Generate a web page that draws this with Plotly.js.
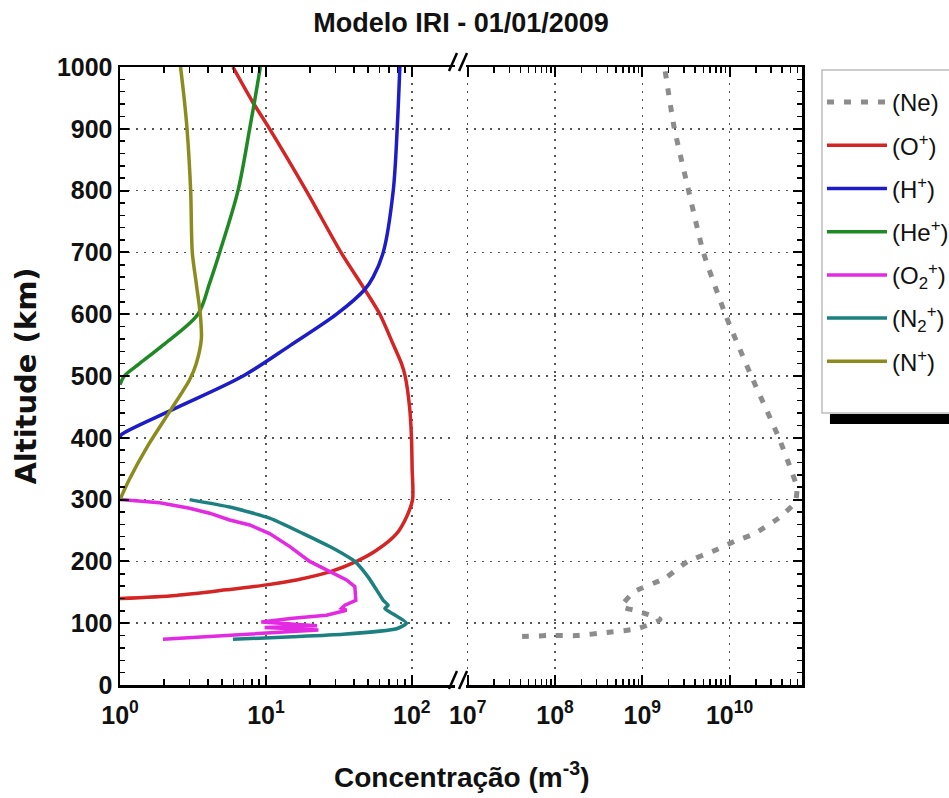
<!DOCTYPE html>
<html>
<head>
<meta charset="utf-8">
<script src="https://cdn.plot.ly/plotly-3.0.1.min.js"></script>
<style>
  html, body { margin: 0; padding: 0; background: #fff; }
  #chart { width: 949px; height: 798px; }
</style>
</head>
<body>
<div id="chart"></div>
<script>
// IRI model ion composition profiles for 01/01/2009.
// Altitudes in km, concentrations in m^-3.

// Electron density (right panel)
const altNe  = [993, 902, 805, 700, 596, 498, 401, 350, 319, 296, 270, 244, 234, 218, 199, 173, 150, 127, 120, 106, 91, 85, 80, 80, 78];
const concNe = [1.83e9, 2.32e9, 3.33e9, 5.01e9, 9.16e9, 1.80e10, 3.65e10, 5.01e10, 5.92e10, 5.66e10, 3.65e10, 1.88e10, 1.21e10,
                6.85e9, 3.24e9, 1.83e9, 7.93e8, 5.82e8, 8.65e8, 1.60e9, 8.65e8, 3.92e8, 1.77e8, 8.39e7, 3.63e7];

// O+
const altOp  = [1000, 945, 900, 800, 700, 640, 600, 553, 520, 500, 450, 400, 350, 300, 272, 245, 218, 200, 183, 170, 162, 154, 145, 140];
const concOp = [5.94, 8.04, 10.6, 18.9, 32.7, 47.6, 60.4, 74.0, 85.0, 90.0, 96.5, 99.5, 100.5, 101.2, 92.0, 78.7, 57.3, 41.8, 27.4, 16.2, 10.1, 5.36, 2.43, 1.0];

// H+
const altHp  = [1000, 900, 800, 700, 660, 640, 600, 550, 500, 446, 405, 401];
const concHp = [82.8, 79.4, 74.6, 63.7, 54.3, 47.6, 30.5, 14.8, 6.97, 2.31, 1.02, 1.0];

// He+
const altHep  = [1000, 945, 900, 800, 700, 650, 600, 550, 520, 500, 486];
const concHep = [9.16, 8.37, 7.74, 6.44, 4.82, 4.11, 3.42, 1.97, 1.36, 1.07, 1.0];

// O2+
const altO2p  = [300, 295, 286, 278, 267, 259, 245, 224, 200, 183, 170, 159, 137, 129, 124, 121, 113, 108, 102, 96, 93, 89, 74];
const concO2p = [1.0, 1.87, 3.0, 4.11, 5.64, 7.74, 10.6, 14.6, 19.95, 27.4, 35.7, 40.7, 41.3, 34.8, 33.0, 35.7, 26.0, 15.3, 9.3, 22.4, 9.8, 22.9, 1.97];

// N2+
const altN2p  = [300, 288, 270, 245, 224, 200, 175, 154, 137, 129, 124, 118, 100, 91, 82, 78, 74];
const concN2p = [3.0, 5.64, 10.6, 18.0, 27.4, 40.7, 50.1, 57.3, 63.7, 68.9, 65.3, 70.8, 92.0, 78.7, 33.8, 15.3, 5.94];

// N+
const altNp  = [1000, 950, 900, 800, 700, 650, 600, 560, 520, 494, 446, 387, 333, 300];
const concNp = [2.60, 2.75, 2.88, 3.05, 3.13, 3.33, 3.55, 3.61, 3.33, 3.0, 2.24, 1.55, 1.16, 1.0];

// Axis ticks
const leftTickVals  = [1, 10, 100];
const leftTickText  = ['10<sup>0</sup>', '10<sup>1</sup>', '10<sup>2</sup>'];
const rightTickVals = [1e7, 1e8, 1e9, 1e10];
const rightTickText = ['10<sup>7</sup>', '10<sup>8</sup>', '10<sup>9</sup>', '10<sup>10</sup>'];

const SANS = '"Liberation Sans", Arial, sans-serif';
const WIDE = '"DejaVu Sans", sans-serif';

function ion(name, x, y, color, smooth) {
  const line = { color: color, width: 3.5 };
  if (smooth) { line.shape = 'spline'; line.smoothing = smooth; }
  return {
    type: 'scatter', mode: 'lines', name: name, legendgroup: name, x: x, y: y,
    xaxis: 'x', yaxis: 'y', line: line
  };
}

const traces = [
  {
    type: 'scatter', mode: 'lines', name: '(Ne)', legendgroup: 'ne', x: concNe, y: altNe,
    xaxis: 'x2', yaxis: 'y2',
    line: { color: '#8c8c8c', width: 5, dash: '7px,10px', shape: 'spline', smoothing: 0.5 }
  },
  ion('(O<sup>+</sup>)', concOp, altOp, '#d42424', 0.8),
  ion('(H<sup>+</sup>)', concHp, altHp, '#1c1cc8', 0.9),
  ion('(He<sup>+</sup>)', concHep, altHep, '#1f8a24', 0.9),
  ion('(O<sub>2</sub><sup>+</sup>)', concO2p, altO2p, '#e22ae2', 0),
  ion('(N<sub>2</sub><sup>+</sup>)', concN2p, altN2p, '#1d8080', 0.5),
  ion('(N<sup>+</sup>)', concNp, altNp, '#8c8c1e', 0.8)
];

const gridStyle = { showgrid: true, gridcolor: '#555', gridwidth: 1.5, griddash: '2px,6px' };

const xCommon = Object.assign({
  type: 'log', tickmode: 'array',
  ticks: 'inside', ticklen: 10, tickwidth: 2, tickcolor: '#000',
  minor: { dtick: 'D1', ticks: 'inside', ticklen: 6, tickwidth: 1.5, tickcolor: '#000', showgrid: false },
  showline: true, linewidth: 2.5, linecolor: '#000', mirror: 'allticks',
  zeroline: false,
  tickfont: { family: SANS, size: 25, weight: 'bold', color: '#111' },
  ticklabelstandoff: 6
}, gridStyle);

const yCommon = Object.assign({
  range: [0, 1000], tickmode: 'linear', tick0: 0, dtick: 100,
  ticks: 'inside', ticklen: 9, tickwidth: 2, tickcolor: '#000',
  minor: { dtick: 20, ticks: 'inside', ticklen: 5, tickwidth: 1.5, tickcolor: '#000', showgrid: false },
  showline: true, linewidth: 2.5, linecolor: '#000',
  zeroline: false
}, gridStyle);

// Axis break marks "//" on the top and bottom frame
function slash(x0, x1, y0, y1) {
  return { type: 'line', xref: 'paper', yref: 'paper', x0: x0, x1: x1, y0: y0, y1: y1,
           line: { color: '#000', width: 2.5 } };
}

const layout = {
  width: 949, height: 798,
  margin: { l: 120, r: 147, t: 67, b: 113, autoexpand: false },
  paper_bgcolor: '#fff', plot_bgcolor: '#fff',
  showlegend: true,
  title: {
    text: 'Modelo IRI - 01/01/2009',
    x: 0.5, xref: 'paper', xanchor: 'center',
    y: 0.972, yref: 'container', yanchor: 'middle',
    font: { family: SANS, size: 27, weight: 'bold', color: '#111' }
  },
  xaxis: Object.assign({}, xCommon, {
    domain: [0, 0.4912], range: [0, 2.296], anchor: 'y',
    tickvals: leftTickVals, ticktext: leftTickText
  }),
  xaxis2: Object.assign({}, xCommon, {
    domain: [0.5073, 1], range: [6.98, 10.83], anchor: 'y2',
    tickvals: rightTickVals, ticktext: rightTickText
  }),
  yaxis: Object.assign({}, yCommon, {
    anchor: 'x', side: 'left',
    tickfont: { family: SANS, size: 25, weight: 'bold', color: '#111' },
    ticklabelstandoff: 0,
    title: { text: 'Altitude (km)', standoff: 12,
             font: { family: WIDE, size: 29, weight: 'bold', color: '#111' } }
  }),
  yaxis2: Object.assign({}, yCommon, {
    anchor: 'x2', side: 'right', matches: 'y', showticklabels: false
  }),
  legend: {
    x: 1.0293, y: 0.979, xanchor: 'left', yanchor: 'top',
    bgcolor: 'rgba(0,0,0,0)', borderwidth: 0,
    font: { family: SANS, size: 24, color: '#111' },
    itemwidth: 60, traceorder: 'grouped', tracegroupgap: 9
  },
  annotations: [{
    text: '<b>Concentração (m<sup>-3</sup>)</b>',
    xref: 'paper', yref: 'paper', x: 0.5, y: -0.1456,
    xanchor: 'center', yanchor: 'middle', showarrow: false,
    font: { family: SANS, size: 28, color: '#111' }
  }],
  shapes: [
    slash(0.4824, 0.4941, -0.0065, 0.0227),
    slash(0.4971, 0.5088, -0.0065, 0.0227),
    slash(0.4824, 0.4941, 0.9935, 1.0227),
    slash(0.4971, 0.5088, 0.9935, 1.0227),
    // legend drop shadow and frame
    { type: 'rect', xref: 'paper', yref: 'paper', x0: 1.041, x1: 1.5, y0: 0.4223, y1: 0.4385,
      fillcolor: '#000', line: { width: 0 }, layer: 'above' },
    { type: 'rect', xref: 'paper', yref: 'paper', x0: 1.0293, x1: 1.5, y0: 0.4401, y1: 0.9951,
      fillcolor: '#fff', line: { color: '#bdbdbd', width: 1.5 }, layer: 'above' }
  ]
};

Plotly.newPlot('chart', traces, layout, { displayModeBar: false, staticPlot: true });
</script>
</body>
</html>
